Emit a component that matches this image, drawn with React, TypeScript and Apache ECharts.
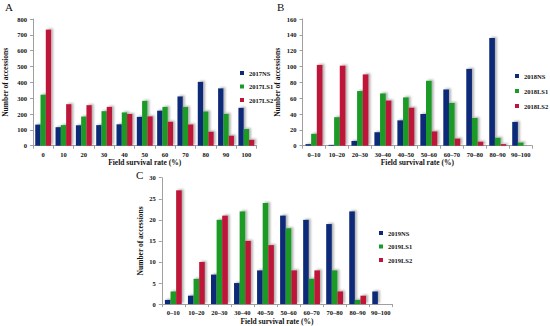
import React, { useEffect, useRef } from "react";
import * as echarts from "echarts";

const catsA = ["0", "10", "20", "30", "40", "50", "60", "70", "80", "90", "100"];
const catsBC = ["0–10", "10–20", "20–30", "30–40", "40–50", "50–60", "60–70", "70–80", "80–90", "90–100"];

const a2017NS = [133, 117, 129, 130, 135, 182, 221, 311, 403, 362, 239];
const a2017LS1 = [322, 130, 184, 218, 210, 283, 245, 244, 216, 201, 105];
const a2017LS2 = [733, 262, 256, 245, 200, 185, 151, 134, 88, 63, 37];

const b2018NS = [2, 1, 6, 17, 32, 40, 71, 97, 136, 30];
const b2018LS1 = [15, 36, 69, 66, 61, 82, 54, 35, 10, 4];
const b2018LS2 = [102, 101, 90, 57, 48, 18, 9, 5, 2, 0];

const c2019NS = [1, 2, 7, 5, 8, 21, 20, 19, 22, 3];
const c2019LS1 = [3, 6, 20, 22, 24, 18, 6, 8, 1, 0];
const c2019LS2 = [27, 10, 21, 15, 14, 8, 8, 3, 2, 0];

const yTicksA = { min: 0, max: 800, interval: 100 };
const yTicksB = { min: 0, max: 160, interval: 20 };
const yTicksC = { min: 0, max: 30, interval: 5 };

const NAVY = "#0d2a78";
const GREEN = "#1a9a26";
const RED = "#bd1538";
const FONT = "Liberation Serif";

export default function App() {
  const ref = useRef<HTMLDivElement>(null);
  useEffect(() => {
    if (!ref.current) return;
    const chart = echarts.init(ref.current, null, { renderer: "svg" });
    const axisLine = { lineStyle: { color: "#a0a0a0", width: 1 } };
    const tickLabel = { fontFamily: FONT, fontWeight: "bold" as const, fontSize: 6.5, color: "#111" };
    const mkX = (idx: number, data: string[], gap: number) => ({
      type: "category",
      gridIndex: idx,
      data,
      axisLine,
      axisTick: { show: true, length: 3, lineStyle: { color: "#a0a0a0" } },
      axisLabel: { ...tickLabel, margin: 5, interval: 0 },
      name: "Field survival rate (%)",
      nameLocation: "middle",
      nameGap: gap,
      nameTextStyle: { fontFamily: FONT, fontWeight: "bold", fontSize: 7.5, color: "#111" },
    });
    const mkY = (idx: number, t: any, gap: number) => ({
      type: "value",
      gridIndex: idx,
      ...t,
      axisLine: { show: true, ...axisLine },
      axisTick: { show: true, length: 3, lineStyle: { color: "#a0a0a0" } },
      splitLine: { show: false },
      axisLabel: { ...tickLabel, margin: 6 },
      name: "Number of accessions",
      nameLocation: "middle",
      nameGap: gap,
      nameTextStyle: { fontFamily: FONT, fontWeight: "bold", fontSize: 7.5, color: "#111" },
    });
    const shadow = {
      shadowColor: "rgba(0,0,0,0.3)",
      shadowBlur: 2,
      shadowOffsetX: 2,
      shadowOffsetY: -1,
    };
    const mkS = (name: string, data: number[], idx: number, color: string, gapCat: string) => ({
      type: "bar",
      name,
      data,
      xAxisIndex: idx,
      yAxisIndex: idx,
      barGap: "0%",
      barCategoryGap: gapCat,
      itemStyle: { color, ...shadow },
    });
    const legendText = { fontFamily: FONT, fontWeight: "bold" as const, fontSize: 6.5, color: "#111", lineHeight: 8 };
    const titleStyle = { fontFamily: FONT, fontWeight: "normal" as const, fontSize: 11, color: "#111" };
    chart.setOption({
      animation: false,
      backgroundColor: "#fff",
      title: [
        { text: "A", left: 5, top: 1, padding: 0, textStyle: titleStyle },
        { text: "B", left: 277, top: 1, padding: 0, textStyle: titleStyle },
        { text: "C", left: 136, top: 169, padding: 0, textStyle: titleStyle },
      ],
      legend: [
        {
          orient: "vertical", left: 240, top: 69, padding: 0, itemWidth: 4, itemHeight: 4, itemGap: 5.5,
          icon: "rect", textStyle: legendText, data: ["2017NS", "2017LS1", "2017LS2"],
        },
        {
          orient: "vertical", left: 515, top: 72, padding: 0, itemWidth: 4, itemHeight: 4, itemGap: 7,
          icon: "rect", textStyle: legendText, data: ["2018NS", "2018LS1", "2018LS2"],
        },
        {
          orient: "vertical", left: 379, top: 229, padding: 0, itemWidth: 4, itemHeight: 4, itemGap: 5.5,
          icon: "rect", textStyle: legendText, data: ["2019NS", "2019LS1", "2019LS2"],
        },
      ],
      grid: [
        { left: 30.5, top: 19, width: 226, height: 126.7 },
        { left: 302.5, top: 19, width: 229.7, height: 126.7 },
        { left: 161.8, top: 177.7, width: 230.4, height: 127.3 },
      ],
      xAxis: [mkX(0, catsA, 10), mkX(1, catsBC, 10), mkX(2, catsBC, 10)],
      yAxis: [mkY(0, yTicksA, 24), mkY(1, yTicksB, 21.5), mkY(2, yTicksC, 17.5)],
      series: [
        mkS("2017NS", a2017NS, 0, NAVY, "22%"),
        mkS("2017LS1", a2017LS1, 0, GREEN, "22%"),
        mkS("2017LS2", a2017LS2, 0, RED, "22%"),
        mkS("2018NS", b2018NS, 1, NAVY, "26%"),
        mkS("2018LS1", b2018LS1, 1, GREEN, "26%"),
        mkS("2018LS2", b2018LS2, 1, RED, "26%"),
        mkS("2019NS", c2019NS, 2, NAVY, "27%"),
        mkS("2019LS1", c2019LS1, 2, GREEN, "27%"),
        mkS("2019LS2", c2019LS2, 2, RED, "27%"),
      ],
    });
    return () => chart.dispose();
  }, []);
  return <div ref={ref} style={{ position: "absolute", left: 0, top: 0, width: 550, height: 326 }} />;
}
